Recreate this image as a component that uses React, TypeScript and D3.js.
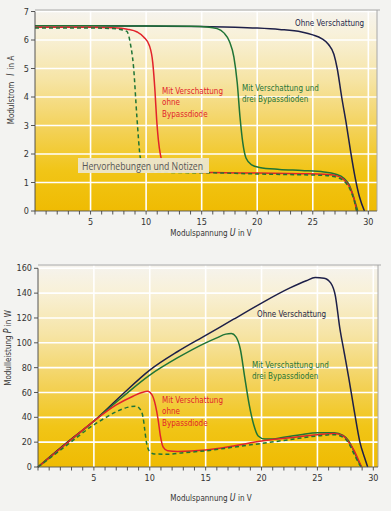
import * as d3 from "d3";
import * as React from "react";

type Pt = [number, number];

// x axis (both charts)
const voltTicks = [5, 10, 15, 20, 25, 30];
const voltMinor = d3.range(0, 31);
const voltGrid = [5, 10, 15, 20, 25, 30];

// top chart: Modulstrom I in A
const ampTicks = [0, 1, 2, 3, 4, 5, 6, 7];
const ohneI: Pt[] = [
    [0, 6.5], [5, 6.5], [10, 6.49], [15, 6.47], [18, 6.45], [20, 6.42], [22, 6.37], [24, 6.28],
    [25, 6.18], [25.8, 6.05], [26.4, 5.85], [26.9, 5.5], [27.2, 5.0], [27.6, 4.0], [28.0, 3.1],
    [28.4, 2.1], [28.8, 1.2], [29.2, 0.5], [29.65, 0],
];
const dreiBypassI: Pt[] = [
    [0, 6.5], [5, 6.5], [10, 6.49], [14, 6.48], [15.5, 6.46], [16.4, 6.4], [17.0, 6.25], [17.5, 5.95],
    [17.9, 5.4], [18.2, 4.5], [18.45, 3.3], [18.7, 2.4], [19.0, 1.85], [19.5, 1.62], [20.2, 1.53],
    [22, 1.46], [24, 1.42], [26, 1.37], [27, 1.3], [27.8, 1.15], [28.3, 0.9], [28.7, 0.45], [29.05, 0],
];
const ohneBypassI: Pt[] = [
    [0, 6.45], [5, 6.45], [7, 6.43], [8.3, 6.38], [9.2, 6.28], [9.8, 6.1], [10.3, 5.8], [10.6, 5.2],
    [10.8, 4.2], [10.95, 3.2], [11.1, 2.5], [11.3, 1.95], [11.6, 1.6], [12.3, 1.42], [14, 1.37],
    [16, 1.35], [20, 1.33], [24, 1.31], [26, 1.29], [27, 1.25], [27.8, 1.1], [28.3, 0.85],
    [28.7, 0.45], [28.95, 0],
];
const gestricheltI: Pt[] = [
    [0, 6.42], [5, 6.42], [7, 6.4], [7.8, 6.36], [8.27, 6.3], [8.57, 5.9], [8.87, 5.05], [9.17, 3.3],
    [9.47, 1.9], [9.8, 1.5], [10.5, 1.38], [13, 1.35], [16, 1.34], [20, 1.3], [24, 1.27], [26, 1.25],
    [27, 1.2], [27.8, 1.05], [28.3, 0.8], [28.7, 0.4], [28.95, 0],
];

// bottom chart: Modulleistung P in W
const wattTicks = [0, 20, 40, 60, 80, 100, 120, 140, 160];
const ohneP: Pt[] = [
    [0, 0], [2.5, 19], [5, 37], [7.5, 58], [10, 78], [12.5, 93], [15, 106], [17.5, 119], [20, 132],
    [22.5, 144], [24, 150], [24.8, 152.5], [25.6, 152], [26.2, 148], [26.6, 138], [27.0, 112],
    [27.4, 92], [27.8, 72], [28.3, 45], [28.8, 20], [29.2, 8], [29.5, 0],
];
const dreiBypassP: Pt[] = [
    [0, 0], [2.5, 18.5], [5, 37], [7.5, 56], [10, 74], [12.5, 88], [15, 100], [16, 104], [16.8, 107],
    [17.3, 107.5], [17.7, 105], [18.1, 95], [18.5, 72], [18.9, 50], [19.3, 34], [19.7, 25],
    [20.3, 22.5], [21, 22.5], [22, 24], [23.5, 26], [25, 27.5], [26.5, 27.5], [27.3, 25.5],
    [27.8, 21], [28.2, 14], [28.6, 6], [28.95, 0],
];
const ohneBypassP: Pt[] = [
    [0, 0], [2.5, 18.5], [5, 37], [7, 50], [8.5, 57], [9.3, 60], [9.8, 61], [10.2, 58], [10.5, 50],
    [10.75, 38], [10.95, 25], [11.2, 16], [11.6, 13], [12.5, 12.5], [15, 13.7], [17.5, 17],
    [20, 21], [22.5, 23.5], [25, 26], [26.5, 27], [27.3, 25], [27.8, 20], [28.3, 13], [28.7, 5],
    [28.95, 0],
];
const gestricheltP: Pt[] = [
    [0, 0], [2.5, 17], [5, 34], [6, 39.5], [7, 44.5], [8, 48], [8.7, 49], [9.1, 47], [9.4, 40],
    [9.55, 30], [9.7, 20], [9.95, 13], [10.4, 10.5], [11.5, 10.3], [13, 11.5], [15, 13], [17.5, 16],
    [20, 19], [22.5, 22], [25, 25], [26.5, 26], [27.3, 24], [27.8, 19], [28.3, 10], [28.7, 3],
    [28.9, 0],
];

const FONT = "'DejaVu Sans Condensed', 'Noto Sans', sans-serif";
const NAVY = "#1d1f48";
const RED = "#e2222b";
const GREEN = "#1f7436";
const SQUEEZE = 0.87;

interface Note { lines: string[]; x: number; y: number; color: string; }

interface PanelProps {
    x0: number; x1: number; xMax: number;
    y0: number; y1: number; yMax: number; frameTop: number;
    yTicks: number[];
    series: { data: Pt[]; color: string; dash?: string }[];
    notes: Note[];
    xTitleY: number;
    yTitle: React.ReactNode; yTitleX: number; yTitleY: number;
    children?: React.ReactNode;
}

function Panel(p: PanelProps) {
    const x = d3.scaleLinear().domain([0, p.xMax]).range([p.x0, p.x1]);
    const y = d3.scaleLinear().domain([0, p.yMax]).range([p.y0, p.y1]);
    const line = d3.line<Pt>().x(d => x(d[0])).y(d => y(d[1])).curve(d3.curveMonotoneX);
    const right = p.x1;
    return (
        <g>
            <rect x={p.x0} y={p.frameTop} width={right - p.x0} height={p.y0 - p.frameTop} fill="url(#bg)" />
            {p.yTicks.filter(t => t > 0).map(t => (
                <line key={"h" + t} x1={p.x0} x2={right} y1={y(t)} y2={y(t)} stroke="#fff" strokeWidth={1.6} />
            ))}
            {voltGrid.map(t => (
                <line key={"v" + t} x1={x(t)} x2={x(t)} y1={p.frameTop} y2={p.y0} stroke="#fff" strokeWidth={1.6} />
            ))}
            <path d={`M${p.x0},${p.frameTop}H${right + 3}M${right},${p.frameTop}V${p.y0}`} stroke="#a8a8a8" fill="none" strokeWidth={1} />
            {p.series.map((s, i) => (
                <path key={i} d={line(s.data) ?? ""} fill="none" stroke={s.color} strokeWidth={1.5}
                    strokeDasharray={s.dash} />
            ))}
            {p.children}
            {/* axes */}
            <line x1={p.x0} x2={p.x0} y1={p.y0} y2={y(p.yTicks[p.yTicks.length - 1])} stroke="#444" strokeWidth={0.9} />
            <line x1={p.x0} x2={right} y1={p.y0} y2={p.y0} stroke="#555" strokeWidth={0.9} />
            {p.yTicks.map(t => (
                <g key={"yt" + t}>
                    <line x1={p.x0 - 4} x2={p.x0} y1={y(t)} y2={y(t)} stroke="#444" strokeWidth={0.9} />
                    <text x={p.x0 - 6} y={y(t)} dy="0.35em" textAnchor="end" fontSize={9} fill="#333" fontFamily={FONT}>{t}</text>
                </g>
            ))}
            {voltMinor.map(t => (
                <line key={"xm" + t} x1={x(t)} x2={x(t)} y1={p.y0} y2={p.y0 + 3.5} stroke="#444" strokeWidth={0.9} />
            ))}
            {voltTicks.map(t => (
                <text key={"xt" + t} x={x(t)} y={p.y0 + 14} textAnchor="middle" fontSize={9} fill="#333" fontFamily={FONT}>{t}</text>
            ))}
            <g transform={`translate(211,${p.xTitleY}) scale(${SQUEEZE},1)`}>
                <text textAnchor="middle" fontSize={9.2} fill="#333" fontFamily={FONT}>
                    Modulspannung <tspan fontStyle="italic" fontSize={10}>U</tspan> in V
                </text>
            </g>
            <g transform={`translate(${p.yTitleX},${p.yTitleY}) rotate(-90) scale(${SQUEEZE},1)`}>
                <text textAnchor="middle" fontSize={9.2} fill="#333" fontFamily={FONT}>
                    {p.yTitle}
                </text>
            </g>
            {p.notes.map((n, i) => (
                <g key={"n" + i} transform={`translate(${n.x},${n.y}) scale(${SQUEEZE},1)`}>
                    <text fontSize={9.2} fill={n.color} fontFamily={FONT}>
                        {n.lines.map((l, j) => <tspan key={j} x={0} dy={j === 0 ? 0 : 11.3}>{l}</tspan>)}
                    </text>
                </g>
            ))}
        </g>
    );
}

export default function App() {
    return (
        <svg width={391} height={511} style={{ position: "absolute", left: 0, top: 0 }}>
            <defs>
                <linearGradient id="bg" x1="0" y1="0" x2="0" y2="1">
                    <stop offset="0" stopColor="#f5f3ee" />
                    <stop offset="0.12" stopColor="#f8f1da" />
                    <stop offset="0.35" stopColor="#f6e4a4" />
                    <stop offset="0.6" stopColor="#f3d156" />
                    <stop offset="0.8" stopColor="#f1c517" />
                    <stop offset="1" stopColor="#efbb02" />
                </linearGradient>
            </defs>
            <rect width={391} height={511} fill="#f3f3f1" />
            <Panel
                x0={35} x1={377} xMax={30.78}
                y0={211} y1={11.5} yMax={7} frameTop={10}
                yTicks={ampTicks}
                series={[
                    { data: ohneI, color: NAVY },
                    { data: dreiBypassI, color: GREEN },
                    { data: ohneBypassI, color: RED },
                    { data: gestricheltI, color: GREEN, dash: "4,3" },
                ]}
                notes={[
                    { lines: ["Ohne Verschattung"], x: 295, y: 26, color: NAVY },
                    { lines: ["Mit Verschattung", "ohne", "Bypassdiode"], x: 162, y: 94, color: RED },
                    { lines: ["Mit Verschattung und", "drei Bypassdioden"], x: 242, y: 91, color: GREEN },
                ]}
                xTitleY={236}
                yTitle={<>Modulstrom <tspan fontStyle="italic" fontSize={10}>{"\u2002I\u2002"}</tspan>in A</>}
                yTitleX={14} yTitleY={90}
            >
                <rect x={78} y={158} width={131} height={15} fill="#ebe6cc" opacity={0.95} />
                <text x={82} y={169.5} fontSize={10} fill="#555" fontFamily="'Open Sans', 'Noto Sans', sans-serif"
                    textLength={121} lengthAdjust="spacingAndGlyphs">Hervorhebungen und Notizen</text>
            </Panel>
            <Panel
                x0={38} x1={378} xMax={30.42}
                y0={467} y1={268.3} yMax={160} frameTop={265}
                yTicks={wattTicks}
                series={[
                    { data: ohneP, color: NAVY },
                    { data: dreiBypassP, color: GREEN },
                    { data: ohneBypassP, color: RED },
                    { data: gestricheltP, color: GREEN, dash: "4,3" },
                ]}
                notes={[
                    { lines: ["Ohne Verschattung"], x: 257, y: 317, color: NAVY },
                    { lines: ["Mit Verschattung", "ohne", "Bypassdiode"], x: 162, y: 403, color: RED },
                    { lines: ["Mit Verschattung und", "drei Bypassdioden"], x: 252, y: 368, color: GREEN },
                ]}
                xTitleY={501}
                yTitle={<>Modulleistung <tspan fontStyle="italic" fontSize={10}>P</tspan> in W</>}
                yTitleX={11} yTitleY={348}
            />
        </svg>
    );
}
